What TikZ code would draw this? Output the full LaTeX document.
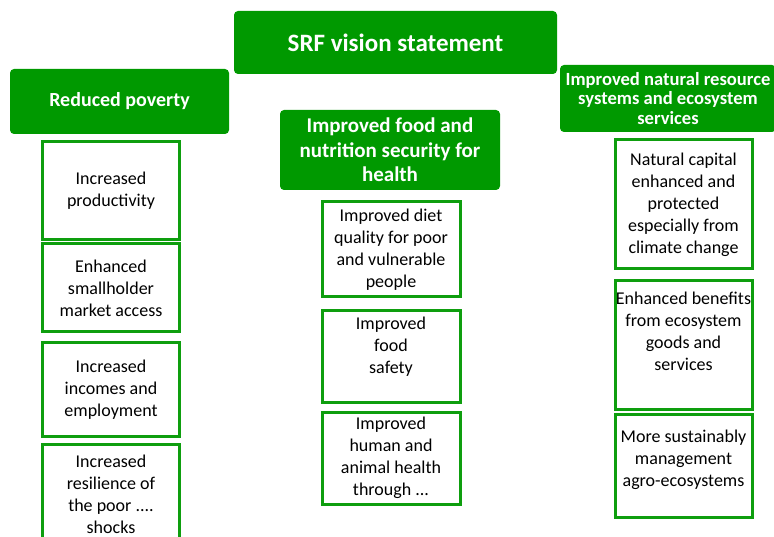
\documentclass[tikz,border=0pt]{standalone}
\usepackage{fontspec}
\setmainfont{Carlito}
\definecolor{srfgreen}{RGB}{0,153,0}
\definecolor{subgreen}{RGB}{14,158,14}

\begin{document}
\begin{tikzpicture}[x=1pt, y=-1pt,
    head/.style={rectangle, rounded corners=4pt, fill=srfgreen, text=white, inner sep=0pt, align=center},
    sub/.style={rectangle, draw=subgreen, line width=3pt, fill=white, inner sep=0pt, align=center,
        minimum width=137pt, font=\fontsize{18}{22}\selectfont}]
    \path[use as bounding box, clip] (0,0) rectangle (774,537);

    % vision and the three goals
    \node[head, minimum width=323pt, minimum height=63pt, font=\bfseries\fontsize{25}{30}\selectfont] (vision) at (395.5,42.5) {SRF vision statement};
    \node[head, minimum width=219pt, minimum height=65pt, font=\bfseries\fontsize{20}{24}\selectfont] (poverty) at (119.5,101.5) {Reduced poverty};
    \node[head, minimum width=220pt, minimum height=80pt, font=\bfseries\fontsize{21}{24.5}\selectfont] (food) at (390,150) {Improved food and\\nutrition security for\\health};
    \node[head, minimum width=216pt, minimum height=67pt, font=\bfseries\fontsize{18.6}{19.5}\selectfont] (natres) at (668,98.5) {Improved natural resource\\systems and ecosystem\\services};

    % outcomes under reduced poverty
    \node[sub, minimum height=98pt] (pov1) at (111,191) {Increased\\productivity};
    \node[sub, minimum height=88pt] (pov2) at (111,288) {Enhanced\\smallholder\\market access};
    \node[sub, minimum height=93pt] (pov3) at (111,389.5) {Increased\\incomes and\\employment};
    \node[sub, minimum height=100pt] (pov4) at (111,494) {Increased\\resilience of\\the poor ....\\shocks};

    % outcomes under food and nutrition
    \node[sub, minimum height=95pt, minimum width=138pt] (fns1) at (391,249.5) {Improved diet\\quality for poor\\and vulnerable\\people};
    \node[sub, minimum height=91pt, minimum width=138pt] (fns2) at (391,356.5) {Improved\\food\\safety\\ ~};
    \node[sub, minimum height=92pt, minimum width=138pt] (fns3) at (391,458) {Improved\\human and\\animal health\\through ...};

    % outcomes under natural resources
    \node[sub, minimum height=129pt] (nrm1) at (683.5,204.5) {Natural capital\\enhanced and\\protected\\especially from\\climate change};
    \node[sub, minimum height=128pt] (nrm2) at (683.5,345) {Enhanced benefits\\from ecosystem\\goods and\\services\\[6pt] ~};
    \node[sub, minimum height=103pt] (nrm3) at (683.5,465.5) {More sustainably\\management\\agro-ecosystems\\[-8pt] ~};
\end{tikzpicture}
\end{document}
